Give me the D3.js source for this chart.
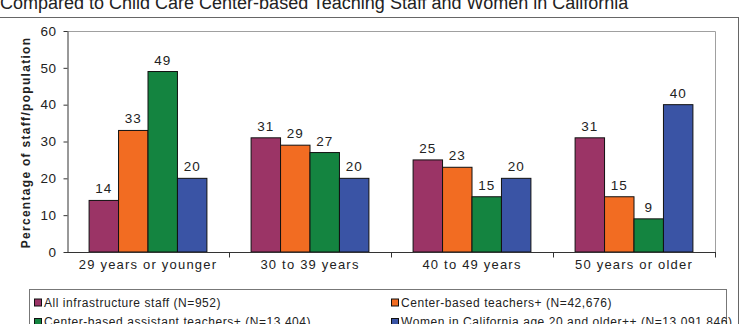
<!DOCTYPE html>
<html>
<head>
<meta charset="utf-8">
<script src="https://cdn.jsdelivr.net/npm/d3@7"></script>
<style>
  body { margin: 0; background: #fff; }
  svg { display: block; font-family: "Liberation Sans", Arial, sans-serif; }
</style>
</head>
<body>
<div id="chart"></div>
<script>
// Chart data
const categories = ["29 years or younger", "30 to 39 years", "40 to 49 years", "50 years or older"];
const seriesNames = [
  "All infrastructure staff (N=952)",
  "Center-based teachers+ (N=42,676)",
  "Center-based assistant teachers+ (N=13,404)",
  "Women in California age 20 and older++ (N=13,091,846)"
];
const infrastructureStaff = [14, 31, 25, 31];
const centerTeachers = [33, 29, 23, 15];
const assistantTeachers = [49, 27, 15, 9];
const californiaWomen = [20, 20, 20, 40];
const yTicks = [0, 10, 20, 30, 40, 50, 60];

const seriesValues = [infrastructureStaff, centerTeachers, assistantTeachers, californiaWomen];
const colors = ["#9b3466", "#f26c22", "#148440", "#3a54a5"];

const width = 741, height = 324;
const plot = { left: 67, right: 715, top: 31, bottom: 252 };

const svg = d3.select("#chart")
  .append("svg")
  .attr("width", width)
  .attr("height", height);

// Title (cut off at the top of the image)
svg.append("text")
  .attr("x", 0)
  .attr("y", 9)
  .attr("font-size", 18)
  .attr("fill", "#222")
  .text("Compared to Child Care Center-based Teaching Staff and Women in California");

// Outer frame
svg.append("rect")
  .attr("x", -1).attr("y", 17.5)
  .attr("width", 739.5).attr("height", 320)
  .attr("fill", "none")
  .attr("stroke", "#666");

// Scales
const x0 = d3.scaleBand()
  .domain(categories)
  .range([plot.left, plot.right])
  .padding(0);

const x1 = d3.scaleBand()
  .domain(d3.range(seriesNames.length))
  .range([0, x0.bandwidth()])
  .paddingInner(0)
  .paddingOuter(0.75);

const y = d3.scaleLinear()
  .domain([0, 60])
  .range([plot.bottom, plot.top]);

// Plot area border (top + right)
svg.append("path")
  .attr("d", `M${plot.left},${plot.top + 0.5}H${plot.right + 0.5}V${plot.bottom}`)
  .attr("fill", "none")
  .attr("stroke", "#a0a0a0");

// Bars
const groups = svg.selectAll("g.cat")
  .data(categories)
  .join("g")
  .attr("class", "cat")
  .attr("transform", d => `translate(${x0(d)},0)`);

groups.each(function(cat, ci) {
  const g = d3.select(this);
  const rows = seriesValues.map((vals, si) => ({ si: si, v: vals[ci] }));

  g.selectAll("rect")
    .data(rows)
    .join("rect")
    .attr("x", d => x1(d.si))
    .attr("y", d => y(d.v))
    .attr("width", x1.bandwidth())
    .attr("height", d => y(0) - y(d.v))
    .attr("fill", d => colors[d.si])
    .attr("stroke", "#111")
    .attr("stroke-width", 1);

  g.selectAll("text")
    .data(rows)
    .join("text")
    .attr("x", d => x1(d.si) + x1.bandwidth() / 2)
    .attr("y", d => y(d.v) - 7)
    .attr("text-anchor", "middle")
    .attr("font-size", 13.5)
    .attr("letter-spacing", 1)
    .attr("fill", "#222")
    .text(d => d.v);
});

// Y axis
const yAxis = svg.append("g")
  .attr("transform", `translate(${plot.left + 0.5},0)`)
  .call(d3.axisLeft(y).tickValues(yTicks).tickSize(4).tickPadding(7).tickSizeOuter(0));
yAxis.select(".domain").attr("stroke", "#333");
yAxis.selectAll(".tick line").attr("stroke", "#333");
yAxis.selectAll("text")
  .attr("font-size", 13.5)
  .attr("font-family", "Liberation Sans, Arial, sans-serif")
  .attr("letter-spacing", 0.5)
  .attr("fill", "#222");

// X axis: ticks at category boundaries
const xAxis = svg.append("g")
  .attr("transform", `translate(0,${plot.bottom + 0.5})`);
xAxis.append("line")
  .attr("x1", plot.left).attr("x2", plot.right + 1)
  .attr("stroke", "#333");
xAxis.selectAll("line.tick")
  .data(categories.map(c => x0(c)).concat([plot.right]).slice(1))
  .join("line")
  .attr("class", "tick")
  .attr("x1", d => Math.round(d) + 0.5)
  .attr("x2", d => Math.round(d) + 0.5)
  .attr("y1", 0).attr("y2", 5)
  .attr("stroke", "#333");
xAxis.selectAll("text")
  .data(categories)
  .join("text")
  .attr("x", d => x0(d) + x0.bandwidth() / 2)
  .attr("y", 16.5)
  .attr("text-anchor", "middle")
  .attr("font-size", 13)
  .attr("letter-spacing", 1.2)
  .attr("fill", "#222")
  .text(d => d);

// Y axis title
svg.append("text")
  .attr("transform", `translate(30,${(plot.top + plot.bottom) / 2 + 1}) rotate(-90)`)
  .attr("text-anchor", "middle")
  .attr("font-size", 12)
  .attr("font-weight", "bold")
  .attr("letter-spacing", 1.3)
  .attr("fill", "#222")
  .text("Percentage of staff/population");

// Legend
const legend = svg.append("g");
legend.append("rect")
  .attr("x", 29.5).attr("y", 289.5)
  .attr("width", 697).attr("height", 60)
  .attr("fill", "#fff")
  .attr("stroke", "#777");

const legendCols = [34, 391];
const legendRows = [306.5, 326];

const items = legend.selectAll("g.item")
  .data(seriesNames)
  .join("g")
  .attr("class", "item")
  .attr("transform", (d, i) => `translate(${legendCols[i % 2]},${legendRows[Math.floor(i / 2)]})`);

items.append("rect")
  .attr("x", 0.5).attr("y", -7.5)
  .attr("width", 7).attr("height", 7)
  .attr("fill", (d, i) => colors[i])
  .attr("stroke", "#111");

items.append("text")
  .attr("x", 10)
  .attr("y", 0)
  .attr("font-size", 12)
  .attr("letter-spacing", 0.55)
  .attr("fill", "#222")
  .text(d => d);
</script>
</body>
</html>
